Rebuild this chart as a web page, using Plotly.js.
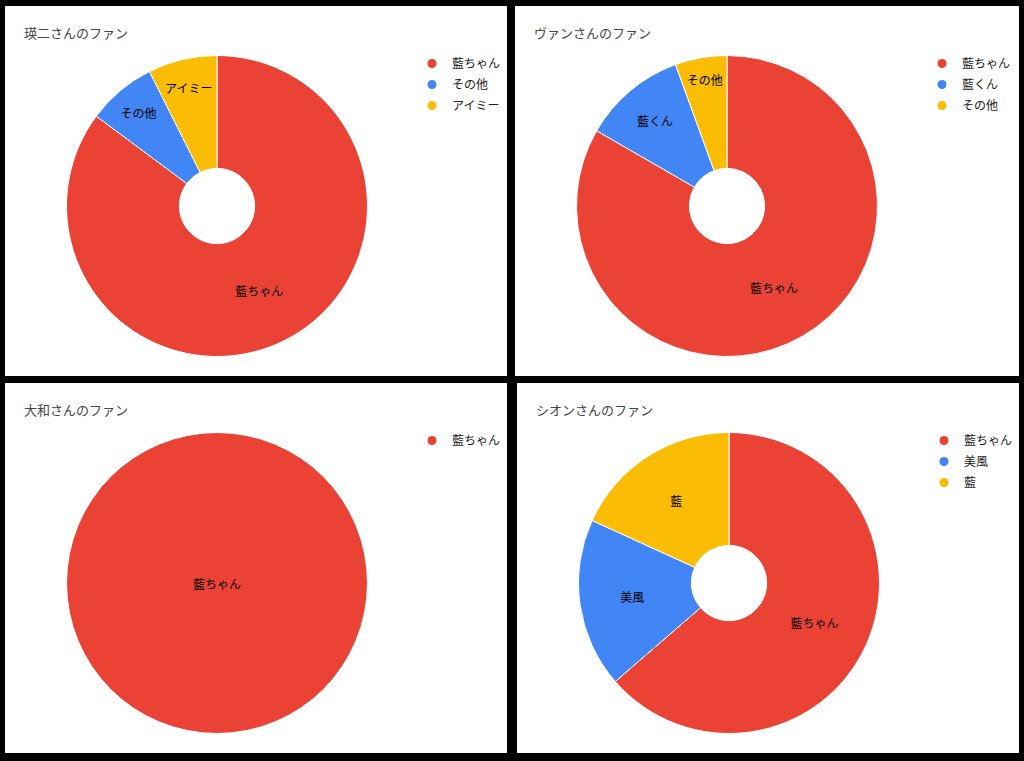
<!DOCTYPE html>
<html>
<head>
<meta charset="utf-8">
<script src="https://cdn.plot.ly/plotly-3.0.1.min.js"></script>
<style>
  html, body { margin: 0; padding: 0; background: #000; width: 1024px; height: 761px; overflow: hidden; }
  .panel { position: absolute; background: #fff; }
</style>
</head>
<body>
<div id="p1" class="panel" style="left:5px;top:6px;width:502px;height:370px;"></div>
<div id="p2" class="panel" style="left:515px;top:6px;width:504px;height:370px;"></div>
<div id="p3" class="panel" style="left:5px;top:383px;width:502px;height:370px;"></div>
<div id="p4" class="panel" style="left:517px;top:383px;width:502px;height:370px;"></div>
<script>
// ---- data ----
const titles = ['瑛二さんのファン', 'ヴァンさんのファン', '大和さんのファン', 'シオンさんのファン'];
const labels1 = ['藍ちゃん', 'その他', 'アイミー'];
const values1 = [23, 2, 2];
const labels2 = ['藍ちゃん', '藍くん', 'その他'];
const values2 = [15, 2, 1];
const labels3 = ['藍ちゃん'];
const values3 = [1];
const labels4 = ['藍ちゃん', '美風', '藍'];
const values4 = [7, 2, 2];
const holes = [0.25, 0.25, 0, 0.25];

// ---- style ----
const palette = ['#EA4335', '#4285F4', '#FBBC04'];
const FONT = '"Noto Sans CJK JP", "Noto Sans", Arial, sans-serif';

function draw(divId, title, labels, values, hole) {
  const W = document.getElementById(divId).clientWidth;
  const H = 370;
  const cx = 212, cy = 200, r = 150.5;
  const pie = {
    type: 'pie',
    labels: labels,
    values: values,
    sort: false,
    direction: 'clockwise',
    rotation: 0,
    hole: hole,
    textinfo: 'label',
    textposition: 'inside',
    insidetextorientation: 'horizontal',
    insidetextfont: { family: FONT, size: 12, color: '#000' },
    marker: { colors: palette.slice(0, labels.length), line: { color: '#ffffff', width: 1 } },
    showlegend: false,
    hoverinfo: 'none',
    domain: { x: [(cx - r) / W, (cx + r) / W], y: [(H - cy - r) / H, (H - cy + r) / H] }
  };
  const legendTraces = labels.map((lab, i) => ({
    type: 'scatter', mode: 'markers', x: [null], y: [null],
    name: lab, legendgroup: 'g' + i,
    marker: { color: palette[i], size: 9, symbol: 'circle' },
    hoverinfo: 'none'
  }));
  const layout = {
    width: W, height: H,
    margin: { l: 0, r: 0, t: 0, b: 0 },
    paper_bgcolor: '#ffffff', plot_bgcolor: '#ffffff',
    font: { family: FONT, size: 12, color: '#222' },
    title: {
      text: title, font: { family: FONT, size: 13, color: '#444' },
      xref: 'container', yref: 'container', x: 19 / W, y: 1 - 27.5 / H,
      xanchor: 'left', yanchor: 'middle'
    },
    xaxis: { visible: false, domain: [0.95, 1] },
    yaxis: { visible: false, domain: [0.95, 1] },
    showlegend: true,
    legend: {
      x: 407 / W, xanchor: 'left', y: 1 - 43 / H, yanchor: 'top',
      bgcolor: 'rgba(0,0,0,0)', font: { family: FONT, size: 12, color: '#222' },
      traceorder: 'grouped', tracegroupgap: 2, itemclick: false, itemdoubleclick: false
    },
    hovermode: false
  };
  Plotly.newPlot(divId, [pie].concat(legendTraces), layout, { staticPlot: true, displayModeBar: false });
}

draw('p1', titles[0], labels1, values1, holes[0]);
draw('p2', titles[1], labels2, values2, holes[1]);
draw('p3', titles[2], labels3, values3, holes[2]);
draw('p4', titles[3], labels4, values4, holes[3]);
</script>
</body>
</html>
